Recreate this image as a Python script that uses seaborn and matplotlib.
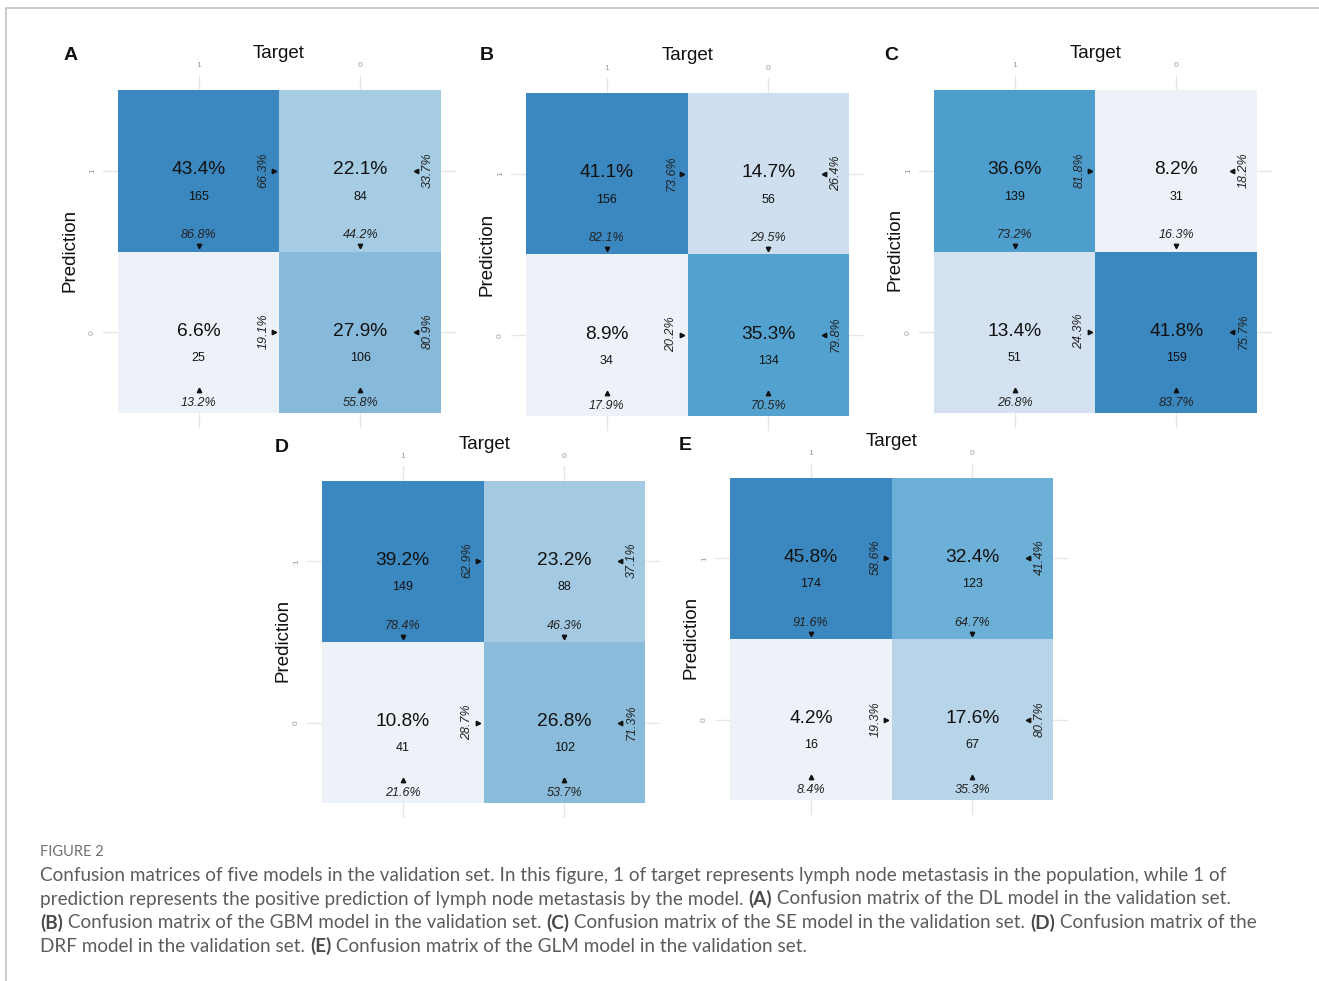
import numpy as np
import pandas as pd
import matplotlib
matplotlib.use("Agg")
import matplotlib.pyplot as plt
import seaborn as sns
from matplotlib.colors import LinearSegmentedColormap
from matplotlib.lines import Line2D

# ---- data: rows = Prediction (1, 0), columns = Target (1, 0) ----
class_labels = ["1", "0"]
panel_letters = ["A", "B", "C", "D", "E"]
counts_dl = [[165, 84], [25, 106]]
counts_gbm = [[156, 56], [34, 134]]
counts_se = [[139, 31], [51, 159]]
counts_drf = [[149, 88], [41, 102]]
counts_glm = [[174, 123], [16, 67]]
all_counts = [counts_dl, counts_gbm, counts_se, counts_drf, counts_glm]

caption_title = "FIGURE 2"
caption_lines = [
    [("Confusion matrices of five models in the validation set. In this figure, 1 of target represents "
      "lymph node metastasis in the population, while 1 of", False)],
    [("prediction represents the positive prediction of lymph node metastasis by the model. ", False),
     ("(A)", True), (" Confusion matrix of the DL model in the validation set.", False)],
    [("(B)", True), (" Confusion matrix of the GBM model in the validation set. ", False),
     ("(C)", True), (" Confusion matrix of the SE model in the validation set. ", False),
     ("(D)", True), (" Confusion matrix of the", False)],
    [("DRF model in the validation set. ", False), ("(E)", True),
     (" Confusion matrix of the GLM model in the validation set.", False)],
]

# ---- layout (pixels) ----
W, H = 1319, 981
tile_boxes = [(118, 90, 441, 413), (526, 93, 849, 416), (934, 90, 1257, 413),
              (322, 481, 645, 803), (730, 478, 1053, 800)]
letter_pos = [(71, 55), (487, 56), (891, 55), (282, 447), (685, 446)]
target_pos = [(279, 54), (688, 56), (1096, 54), (485, 445), (892, 442)]
pred_pos = [(70, 250), (487, 254), (895, 249), (283, 640), (691, 637)]
PAD = 15
CAPTION_X, CAPTION_RIGHT = 40, 1221

sns.set_style("white")
plt.rcParams["font.family"] = ["Liberation Sans", "DejaVu Sans"]

cmap = LinearSegmentedColormap.from_list("tiles", [
    (0.00, "#edf1f8"), (0.17, "#d1e0f0"), (0.32, "#b7d4e8"), (0.42, "#a6cce3"),
    (0.57, "#89bada"), (0.68, "#6cb0d7"), (0.83, "#50a0ce"), (1.00, "#3b88c1")])

fig = plt.figure(figsize=(W / 100, H / 100), dpi=100)


def fx(x):
    return x / W


def fy(y):
    return 1 - y / H


for k, counts in enumerate(all_counts):
    l, t, r, b = tile_boxes[k]
    unit = (r - l) / 2.0
    p = PAD / unit
    ax = fig.add_axes([fx(l - PAD), fy(b + PAD), (r - l + 2 * PAD) / W, (b - t + 2 * PAD) / H])
    df = pd.DataFrame(counts, index=class_labels, columns=class_labels)
    arr = df.values.astype(float)
    total = arr.sum()

    for v in (0.5, 1.5):
        ax.axvline(v, color="#e6e6e6", lw=1.0, zorder=0)
        ax.axhline(v, color="#e6e6e6", lw=1.0, zorder=0)

    sns.heatmap(df, ax=ax, cmap=cmap, vmin=arr.min(), vmax=arr.max(), cbar=False,
                annot=False, xticklabels=class_labels, yticklabels=class_labels)
    ax.set_xlim(-p, 2 + p)
    ax.set_ylim(2 + p, -p)
    for s in ax.spines.values():
        s.set_visible(False)
    ax.set_xlabel("")
    ax.set_ylabel("")
    ax.xaxis.set_ticks_position("top")
    ax.tick_params(axis="both", length=0, labelsize=6, labelcolor="#9a9a9a")
    ax.tick_params(axis="x", pad=4)
    ax.tick_params(axis="y", pad=5)
    for lab in ax.get_yticklabels():
        lab.set_rotation(90)
        lab.set_va("center")
    for lab in ax.get_xticklabels():
        lab.set_rotation(0)

    for i in range(2):
        for j in range(2):
            c = arr[i, j]
            row_pct = 100 * c / arr[i, :].sum()
            col_pct = 100 * c / arr[:, j].sum()
            cx, cy = j + 0.5, i + 0.5
            ax.text(cx, cy - 0.005, f"{100 * c / total:.1f}%", ha="center", va="center",
                    fontsize=13.8, color="#111111")
            ax.text(cx, cy + 0.16, f"{int(c)}", ha="center", va="center",
                    fontsize=9, color="#111111")
            # column percentage with pointer
            if i == 0:
                ax.text(cx, i + 0.9, f"{col_pct:.1f}%", ha="center", va="center",
                        fontsize=9, style="italic", color="#222222")
                ax.plot(cx, i + 0.968, marker="v", ms=3.2, color="#111111", zorder=5)
            else:
                ax.text(cx, i + 0.935, f"{col_pct:.1f}%", ha="center", va="center",
                        fontsize=9, style="italic", color="#222222")
                ax.plot(cx, i + 0.86, marker="^", ms=3.2, color="#111111", zorder=5)
            # row percentage with pointer
            if j == 0:
                ax.text(j + 0.9, cy - 0.005, f"{row_pct:.1f}%", ha="center", va="center",
                        fontsize=9, style="italic", rotation=90, color="#222222")
                ax.plot(j + 0.966, cy, marker=">", ms=3.2, color="#111111", zorder=5)
            else:
                ax.text(j + 0.918, cy - 0.005, f"{row_pct:.1f}%", ha="center", va="center",
                        fontsize=9, style="italic", rotation=90, color="#222222")
                ax.plot(j + 0.848, cy, marker="<", ms=3.2, color="#111111", zorder=5)

    fig.text(fx(letter_pos[k][0]), fy(letter_pos[k][1]), panel_letters[k], ha="center",
             va="center", fontsize=14, weight="bold", color="#111111")
    fig.text(fx(target_pos[k][0]), fy(target_pos[k][1]), "Target", ha="center",
             va="center", fontsize=13.5, color="#111111")
    fig.text(fx(pred_pos[k][0]), fy(pred_pos[k][1]), "Prediction", ha="center",
             va="center", fontsize=13.5, rotation=90, color="#111111")

# frame lines
fig.add_artist(Line2D([fx(6), 1], [fy(8), fy(8)], color="#c4c4c4", lw=1.2))
fig.add_artist(Line2D([fx(6), fx(6)], [fy(8), 0], color="#c4c4c4", lw=1.2))

# caption
cap_font = ["Lato", "DejaVu Sans"]
renderer = fig.canvas.get_renderer()
fig.text(fx(CAPTION_X), fy(852), caption_title, ha="left", va="center", fontsize=10.5,
         family=cap_font, color="#707070")

# size the caption so its first line spans the text block width
probe = fig.text(0, 0, caption_lines[0][0][0], fontsize=12, family=cap_font)
probe_w = probe.get_window_extent(renderer=renderer).width
probe.remove()
cap_size = 12 * (CAPTION_RIGHT - CAPTION_X) / probe_w

line_y = [875, 899, 923, 946]
for y, segs in zip(line_y, caption_lines):
    x = CAPTION_X
    for s, bold in segs:
        txt = fig.text(fx(x), fy(y), s, ha="left", va="center", fontsize=cap_size,
                       family=cap_font, weight="bold" if bold else "normal",
                       color="#4a4a4a" if bold else "#5c5c5c")
        x += txt.get_window_extent(renderer=renderer).width

fig.savefig("out.png", dpi=100)
